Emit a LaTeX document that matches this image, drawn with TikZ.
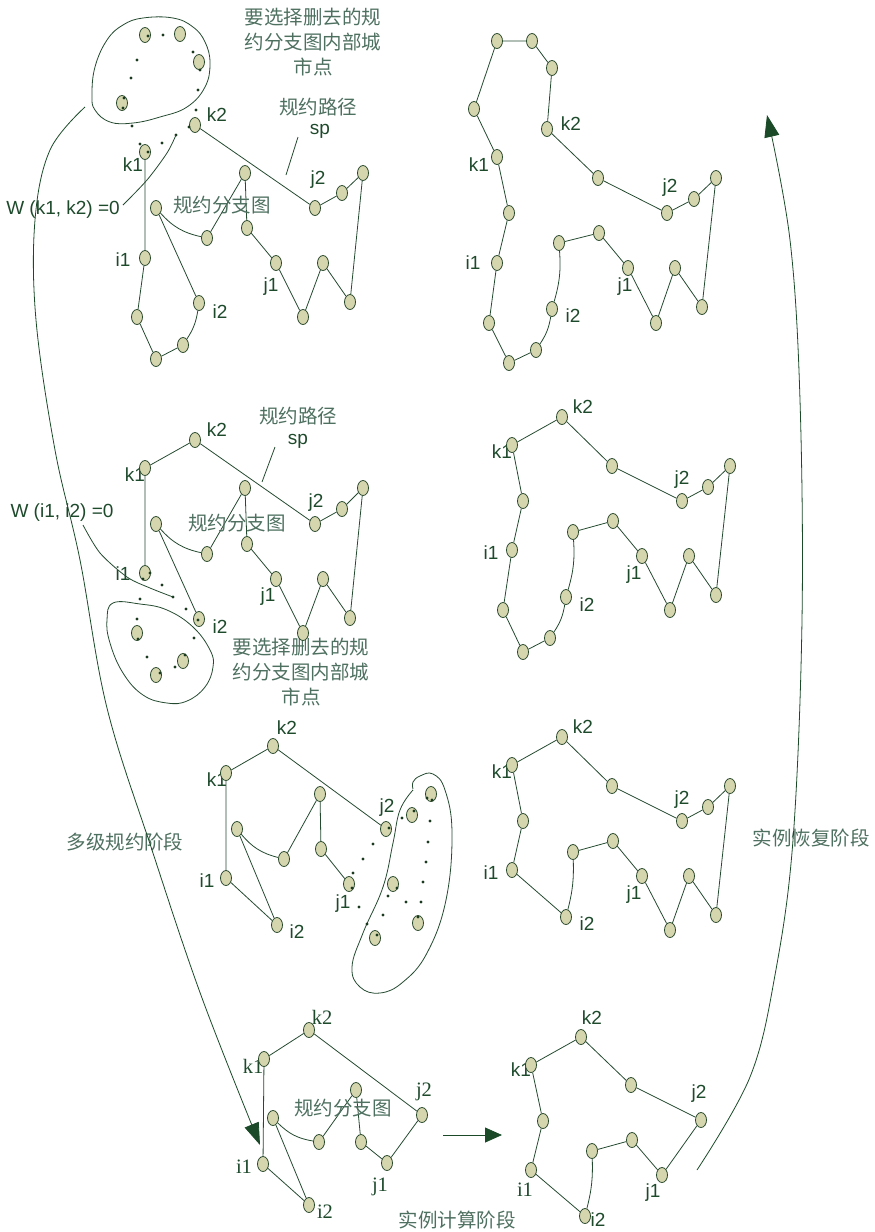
\documentclass[tikz,border=0pt]{standalone}
\usepackage{fontspec}
\newfontfamily\cjkfam{Noto Sans CJK SC}
\newfontfamily\sansfam{Liberation Sans}
\newfontfamily\seriffam{Liberation Serif}
\usetikzlibrary{shapes.geometric,arrows.meta,backgrounds}
\definecolor{nodefill}{HTML}{D5D5AE}
\definecolor{nodeline}{HTML}{2A4A2C}
\definecolor{linecol}{HTML}{244A30}
\definecolor{labcol}{HTML}{1E4A2C}
\definecolor{cjkcol}{HTML}{4E7060}
\definecolor{arrcol}{HTML}{1A4A28}
\definecolor{dotcol}{HTML}{1A3A20}
\begin{document}
\begin{tikzpicture}[x=1pt,y=-1pt,
 city/.style={ellipse, draw=nodeline, fill=nodefill, line width=0.8pt, minimum width=11pt, minimum height=15pt, inner sep=0pt},
 link/.style={draw=linecol, line width=0.8pt},
 lab/.style={text=labcol, font=\sansfam\fontsize{19}{21}\selectfont, inner sep=0pt},
 slab/.style={text=labcol, font=\seriffam\fontsize{20.5}{22}\selectfont, inner sep=0pt},
 cjk/.style={text=cjkcol, font=\cjkfam\fontsize{19.5}{25}\selectfont, inner sep=0pt, align=center},
 dot/.style={circle, fill=dotcol, minimum size=3.3pt, inner sep=0pt},
 blob/.style={draw=linecol, line width=0.8pt},
 bigarrow/.style={draw=linecol, line width=0.8pt, -{Triangle[length=22pt,width=15pt]}, arrcol},
]
\useasboundingbox (0,0) rectangle (875,1232);

% ================= Panel 1 =================
\node[cjk] (t1) at (313,42) {要选择删去的规\\约分支图内部城\\市点};
\node[cjk] (t2) at (318,107) {规约路径};
\node[lab] (t3) at (320,131) {sp};
\node[cjk] (t4) at (222,205) {规约分支图};
\node[lab] (t5) at (63,210) {W (k1, k2) =0};
\node[lab] at (217,115) {k2};
\node[lab] at (133,165) {k1};
\node[lab] at (318,180) {j2};
\node[lab] at (123,260) {i1};
\node[lab] at (220,312) {i2};
\node[lab] at (271,287) {j1};

\node[city] (p1k1) at (145,152) {};
\node[city] (p1k2) at (195,125) {};
\node[city] (p1j2) at (315,208) {};
\node[city] (p1a) at (342,193) {};
\node[city] (p1b) at (363,173) {};
\node[city] (p1c) at (350,302) {};
\node[city] (p1d) at (323,263) {};
\node[city] (p1e) at (303,317) {};
\node[city] (p1j1) at (276,263) {};
\node[city] (p1f) at (247,228) {};
\node[city] (p1g) at (245,173) {};
\node[city] (p1h) at (207,238) {};
\node[city] (p1m) at (156,208) {};
\node[city] (p1i2) at (199,303) {};
\node[city] (p1n) at (183,345) {};
\node[city] (p1o) at (156,359) {};
\node[city] (p1q) at (137,317) {};
\node[city] (p1i1) at (145,258) {};
\node[city] (p1r1) at (145,35) {};
\node[city] (p1r2) at (180,34) {};
\node[city] (p1r3) at (199,62) {};
\node[city] (p1r4) at (122,103) {};

\begin{scope}[on background layer]
\draw[link] (p1k2)--(p1j2)--(p1a)--(p1b)--(p1c)--(p1d)--(p1e)--(p1j1)--(p1f)--(p1g)--(p1h);
\draw[link] (p1m) to[bend right=18] (p1h);
\draw[link] (p1m)--(p1i2);
\draw[link] (p1i2) to[bend left=12] (p1n);
\draw[link] (p1n)--(p1o)--(p1q)--(p1i1)--(p1k1);
\end{scope}

\draw[blob] plot[smooth cycle, tension=0.7] coordinates {(143,18) (173,18) (193,27) (205,42) (210,63) (205,87) (187,107) (160,117) (133,123) (110,122) (95,110) (92,95) (95,67) (107,40) (123,25)};

\foreach \p [count=\i] in {(148,36),(163,35),(193,52),(200,70),(137,60),(131,78),(198,90),(124,98),(123,108),(132,126),(140,144),(162,143),(176,135),(196,110),(189,127),(148,152)}
  \node[dot] (d1-\i) at \p {};

\coordinate (w1a) at (123,205);
\draw[link] plot[smooth] coordinates {(w1a) (147,180) (167,153) (d1-13)};
\coordinate (s1a) at (298,137);
\coordinate (s1b) at (286,175);
\draw[link] (s1a)--(s1b);

% ================= Panel 2 =================
\node[lab] at (571,124) {k2};
\node[lab] at (479,165) {k1};
\node[lab] at (473,263) {i1};
\node[lab] at (573,316) {i2};
\node[lab] at (625,287) {j1};
\node[lab] at (670,188) {j2};

\node[city] (p2a) at (497,41) {};
\node[city] (p2b) at (532,41) {};
\node[city] (p2c) at (552,68) {};
\node[city] (p2k2) at (547,129) {};
\node[city] (p2d) at (598,178) {};
\node[city] (p2j2) at (667,213) {};
\node[city] (p2e) at (694,199) {};
\node[city] (p2f) at (716,178) {};
\node[city] (p2g) at (702,307) {};
\node[city] (p2h) at (675,268) {};
\node[city] (p2m) at (656,323) {};
\node[city] (p2j1) at (628,268) {};
\node[city] (p2n) at (599,233) {};
\node[city] (p2o) at (559,243) {};
\node[city] (p2i2) at (552,309) {};
\node[city] (p2q) at (536,350) {};
\node[city] (p2r) at (509,363) {};
\node[city] (p2s) at (489,323) {};
\node[city] (p2i1) at (497,263) {};
\node[city] (p2t) at (509,213) {};
\node[city] (p2k1) at (497,157) {};
\node[city] (p2u) at (474,109) {};
\begin{scope}[on background layer]
\draw[link] (p2a)--(p2b)--(p2c)--(p2k2)--(p2d)--(p2j2)--(p2e)--(p2f)--(p2g)--(p2h)--(p2m)--(p2j1)--(p2n)--(p2o);
\draw[link] (p2o) to[bend left=10] (p2i2);
\draw[link] (p2i2) to[bend left=12] (p2q);
\draw[link] (p2q)--(p2r)--(p2s)--(p2i1)--(p2t)--(p2k1)--(p2u)--(p2a);
\end{scope}

% ================= Panel 3 =================
\node[cjk] at (298,416) {规约路径};
\node[lab] at (298,441) {sp};
\node[cjk] at (237,523) {规约分支图};
\node[lab] at (62,513) {W (i1, i2) =0};
\node[cjk] at (301,672) {要选择删去的规\\约分支图内部城\\市点};
\node[lab] at (217,430) {k2};
\node[lab] at (135,475) {k1};
\node[lab] at (316,503) {j2};
\node[lab] at (268,597) {j1};
\node[lab] at (220,627) {i2};
\node[lab] at (123,574) {i1};

\node[city] (p3k1) at (145,468) {};
\node[city] (p3k2) at (195,440) {};
\node[city] (p3j2) at (315,524) {};
\node[city] (p3a) at (342,509) {};
\node[city] (p3b) at (363,488) {};
\node[city] (p3c) at (350,618) {};
\node[city] (p3d) at (323,579) {};
\node[city] (p3e) at (303,633) {};
\node[city] (p3j1) at (276,579) {};
\node[city] (p3f) at (247,544) {};
\node[city] (p3g) at (245,488) {};
\node[city] (p3h) at (207,554) {};
\node[city] (p3m) at (156,524) {};
\node[city] (p3i2) at (199,619) {};
\node[city] (p3i1) at (145,573) {};
\node[city] (p3r1) at (137,633) {};
\node[city] (p3r2) at (183,661) {};
\node[city] (p3r3) at (156,675) {};
\begin{scope}[on background layer]
\draw[link] (p3i1)--(p3k1)--(p3k2)--(p3j2)--(p3a)--(p3b)--(p3c)--(p3d)--(p3e)--(p3j1)--(p3f)--(p3g)--(p3h);
\draw[link] (p3m) to[bend right=18] (p3h);
\draw[link] (p3m)--(p3i2);
\end{scope}
\draw[blob] plot[smooth cycle, tension=0.7] coordinates {(113,603) (140,604) (167,610) (193,627) (210,650) (213,667) (205,687) (187,701) (167,703) (143,695) (123,673) (110,643) (107,620)};
\foreach \p [count=\i] in {(150,573),(143,579),(162,585),(173,597),(140,599),(186,609),(198,620),(137,619),(194,638),(138,639),(147,657),(175,667),(185,655),(160,673)}
  \node[dot] (d3-\i) at \p {};
\coordinate (w3a) at (83,525);
\draw[link] plot[smooth] coordinates {(w3a) (100,553) (127,577) (150,588) (d3-4)};
\coordinate (s3a) at (275,447);
\coordinate (s3b) at (262,482);
\draw[link] (s3a)--(s3b);

% ================= Panel 4 =================
\node[lab] at (583,407) {k2};
\node[lab] at (502,452) {k1};
\node[lab] at (491,553) {i1};
\node[lab] at (587,605) {i2};
\node[lab] at (634,575) {j1};
\node[lab] at (682,480) {j2};
\node[city] (p4k2) at (562,417) {};
\node[city] (p4k1) at (512,445) {};
\node[city] (p4a) at (523,501) {};
\node[city] (p4i1) at (512,550) {};
\node[city] (p4b) at (503,610) {};
\node[city] (p4c) at (523,652) {};
\node[city] (p4d) at (550,638) {};
\node[city] (p4i2) at (566,597) {};
\node[city] (p4e) at (573,532) {};
\node[city] (p4f) at (613,521) {};
\node[city] (p4j1) at (642,556) {};
\node[city] (p4g) at (670,610) {};
\node[city] (p4h) at (689,556) {};
\node[city] (p4m) at (716,595) {};
\node[city] (p4n) at (730,466) {};
\node[city] (p4o) at (708,487) {};
\node[city] (p4j2) at (682,501) {};
\node[city] (p4p) at (612,466) {};
\begin{scope}[on background layer]
\draw[link] (p4a)--(p4k1)--(p4k2)--(p4p)--(p4j2)--(p4o)--(p4n)--(p4m)--(p4h)--(p4g)--(p4j1)--(p4f)--(p4e);
\draw[link] (p4e) to[bend left=10] (p4i2);
\draw[link] (p4i2) to[bend left=12] (p4d);
\draw[link] (p4d)--(p4c)--(p4b)--(p4i1)--(p4a);
\end{scope}

% ================= Panel 5 =================
\node[cjk] at (125,842) {多级规约阶段};
\node[lab] at (287,728) {k2};
\node[lab] at (217,780) {k1};
\node[lab] at (387,808) {j2};
\node[lab] at (207,881) {i1};
\node[lab] at (297,932) {i2};
\node[lab] at (343,904) {j1};
\node[city] (p5k2) at (273,746) {};
\node[city] (p5k1) at (226,773) {};
\node[city] (p5j2) at (386,829) {};
\node[city] (p5i1) at (226,878) {};
\node[city] (p5i2) at (277,925) {};
\node[city] (p5m) at (237,829) {};
\node[city] (p5h) at (284,859) {};
\node[city] (p5g) at (320,794) {};
\node[city] (p5f) at (321,849) {};
\node[city] (p5j1) at (349,884) {};
\node[city] (p5r1) at (431,794) {};
\node[city] (p5r2) at (412,815) {};
\node[city] (p5r3) at (393,884) {};
\node[city] (p5r4) at (418,923) {};
\node[city] (p5r5) at (375,938) {};
\begin{scope}[on background layer]
\draw[link] (p5i2)--(p5i1)--(p5k1)--(p5k2)--(p5j2);
\draw[link] (p5m)--(p5i2);
\draw[link] (p5m) to[bend right=18] (p5h);
\draw[link] (p5h)--(p5g)--(p5f)--(p5j1);
\end{scope}
\draw[blob] plot[smooth, tension=0.7] coordinates {(413,790) (400,810) (393,843) (383,887) (363,933) (352,967) (360,987) (380,993) (403,982) (427,953) (446,900) (452,833) (445,790) (433,774) (420,776) (413,782) (413,789)};
\foreach \p [count=\i] in {(373,844),(363,859),(353,873),(352,888),(359,907),(367,924),(383,915),(388,896),(397,888),(406,902),(421,902),(423,882),(426,862),(428,842),(430,821),(427,798),(432,800),(414,811),(402,818),(389,828),(418,917),(377,935)}
  \node[dot] (d5-\i) at \p {};

% ================= Panel 6 =================
\node[lab] at (583,727) {k2};
\node[lab] at (502,772) {k1};
\node[lab] at (491,873) {i1};
\node[lab] at (587,924) {i2};
\node[lab] at (634,895) {j1};
\node[lab] at (682,800) {j2};
\node[cjk] at (811,838) {实例恢复阶段};
\node[city] (p6k2) at (562,737) {};
\node[city] (p6k1) at (512,765) {};
\node[city] (p6a) at (523,821) {};
\node[city] (p6i1) at (512,870) {};
\node[city] (p6i2) at (566,917) {};
\node[city] (p6e) at (573,852) {};
\node[city] (p6f) at (613,841) {};
\node[city] (p6j1) at (642,876) {};
\node[city] (p6g) at (670,930) {};
\node[city] (p6h) at (689,876) {};
\node[city] (p6m) at (716,915) {};
\node[city] (p6n) at (730,786) {};
\node[city] (p6o) at (708,807) {};
\node[city] (p6j2) at (682,821) {};
\node[city] (p6p) at (612,786) {};
\begin{scope}[on background layer]
\draw[link] (p6a)--(p6k1)--(p6k2)--(p6p)--(p6j2)--(p6o)--(p6n)--(p6m)--(p6h)--(p6g)--(p6j1)--(p6f)--(p6e);
\draw[link] (p6e) to[bend left=8] (p6i2);
\draw[link] (p6i2)--(p6i1)--(p6a);
\end{scope}

% ================= Panel 7 =================
\node[slab] at (322,1017) {k2};
\node[slab] at (253,1066) {k1};
\node[slab] at (424,1092) {j2};
\node[slab] at (380,1187) {j1};
\node[slab] at (244,1167) {i1};
\node[slab] at (325,1212) {i2};
\node[cjk] at (343,1108) {规约分支图};
\node[city] (p7k2) at (309,1030) {};
\node[city] (p7k1) at (264,1059) {};
\node[city] (p7j2) at (422,1115) {};
\node[city] (p7j1) at (387,1163) {};
\node[city] (p7f) at (361,1142) {};
\node[city] (p7g) at (356,1090) {};
\node[city] (p7h) at (319,1142) {};
\node[city] (p7m) at (273,1118) {};
\node[city] (p7i2) at (309,1205) {};
\node[city] (p7i1) at (263,1164) {};
\begin{scope}[on background layer]
\draw[link] (p7i2)--(p7i1)--(p7k1)--(p7k2)--(p7j2)--(p7j1)--(p7f)--(p7g)--(p7h);
\draw[link] (p7m) to[bend right=18] (p7h);
\draw[link] (p7m)--(p7i2);
\end{scope}

% ================= Panel 8 =================
\node[lab] at (592,1018) {k2};
\node[lab] at (521,1070) {k1};
\node[slab] at (525,1190) {i1};
\node[lab] at (598,1220) {i2};
\node[lab] at (653,1193) {j1};
\node[lab] at (699,1094) {j2};
\node[cjk] at (457,1220) {实例计算阶段};
\node[city] (p8k2) at (581,1037) {};
\node[city] (p8k1) at (531,1065) {};
\node[city] (p8a) at (543,1121) {};
\node[city] (p8i1) at (531,1170) {};
\node[city] (p8i2) at (585,1216) {};
\node[city] (p8e) at (592,1151) {};
\node[city] (p8f) at (632,1140) {};
\node[city] (p8j1) at (662,1175) {};
\node[city] (p8j2) at (701,1120) {};
\node[city] (p8p) at (631,1085) {};
\begin{scope}[on background layer]
\draw[link] (p8a)--(p8k1)--(p8k2)--(p8p)--(p8j2)--(p8j1)--(p8f)--(p8e);
\draw[link] (p8e) to[bend left=8] (p8i2);
\draw[link] (p8i2)--(p8i1)--(p8a);
\end{scope}

% ================= Stage arrows =================
\coordinate (la) at (85,107);
\coordinate (lb) at (260,1145);
\draw[bigarrow] plot[smooth, tension=0.6] coordinates {(la) (50,150) (35,220) (36,320) (55,450) (80,560) (107,708) (152,850) (202,998) (lb)};

\coordinate (ra) at (697,1170);
\coordinate (rb) at (767,115);
\draw[bigarrow] plot[smooth, tension=0.6] coordinates {(ra) (750,1077) (775,975) (793,840) (802,620) (800,400) (790,240) (rb)};

\coordinate (ma) at (443,1135);
\coordinate (mb) at (502,1135);
\draw[draw=linecol, line width=0.8pt, -{Triangle[length=17pt,width=15pt]}, arrcol] (ma)--(mb);

\end{tikzpicture}
\end{document}
